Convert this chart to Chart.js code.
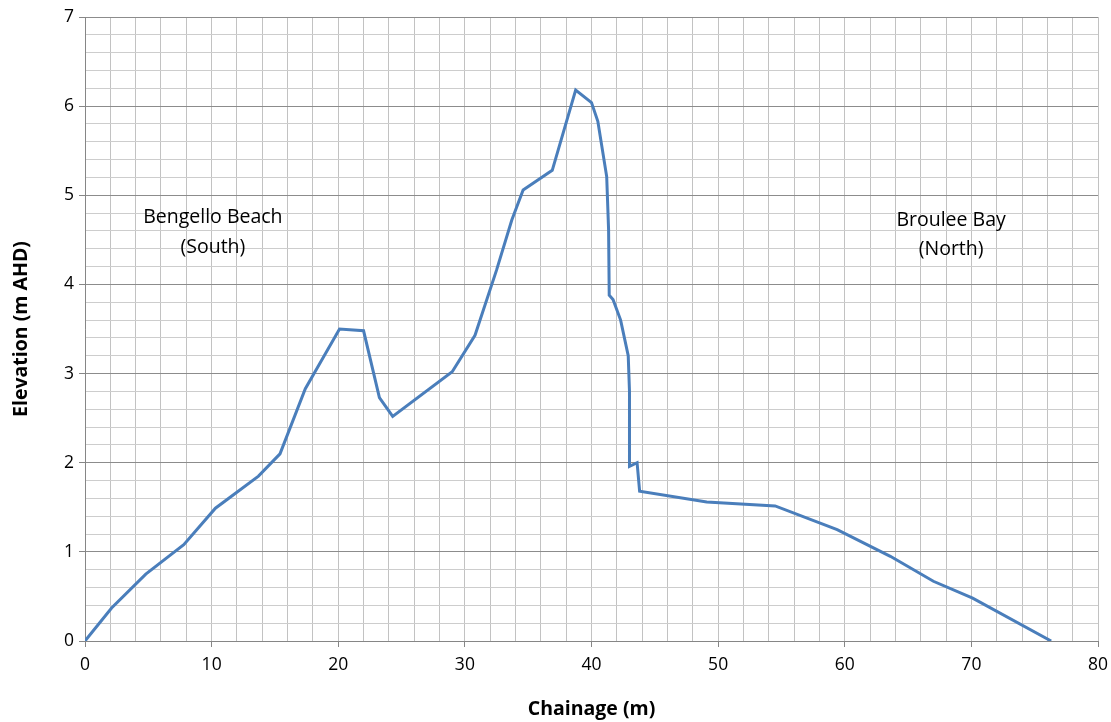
<!DOCTYPE html>
<html>
<head>
<meta charset="utf-8">
<script src="https://cdn.jsdelivr.net/npm/chart.js@4"></script>
<style>
  html, body { margin: 0; padding: 0; background: #fff; }
  #wrap { width: 1111px; height: 722px; }
</style>
</head>
<body>
<div id="wrap"><canvas id="profile"></canvas></div>
<script>
// beach profile
const chainage = [0, 2.1, 4.8, 7.8, 10.3, 13.7, 15.4, 17.4, 20.1, 22.0, 23.25, 24.3,
  29.0, 30.8, 32.5, 33.7, 34.6, 36.9, 38.75, 40.0, 40.5, 41.2, 41.35, 41.4,
  41.7, 42.3, 42.9, 43.0, 43.0, 43.6, 43.8, 49.1, 54.5, 59.4, 63.6, 67.0, 70.1, 76.3];
const elevation = [0, 0.37, 0.75, 1.08, 1.49, 1.85, 2.10, 2.83, 3.50, 3.48, 2.73, 2.52,
  3.02, 3.43, 4.16, 4.72, 5.06, 5.28, 6.18, 6.04, 5.83, 5.21, 4.61, 3.88,
  3.83, 3.60, 3.20, 2.80, 1.96, 2.00, 1.68, 1.56, 1.515, 1.25, 0.95, 0.67, 0.48, 0];

const labels = [
  { text: ["Bengello Beach", "(South)"], x: 10.1, y: [4.75, 4.41] },
  { text: ["Broulee Bay", "(North)"], x: 68.4, y: [4.72, 4.39] },
];

const FONT = "'Open Sans', 'Noto Sans', sans-serif";

function isWhole(v) {
  return Math.abs(v - Math.round(v)) < 1e-6;
}
function isTen(v) {
  return isWhole(v) && Math.round(v) % 10 === 0;
}

const textPlugin = {
  id: "sideLabels",
  afterDatasetsDraw(chart) {
    const ctx = chart.ctx;
    const xs = chart.scales.x, ys = chart.scales.y;
    ctx.save();
    ctx.fillStyle = "#000";
    ctx.font = "19.5px " + FONT;
    ctx.textAlign = "center";
    ctx.textBaseline = "middle";
    labels.forEach((l) => {
      l.text.forEach((t, i) => {
        ctx.fillText(t, xs.getPixelForValue(l.x), ys.getPixelForValue(l.y[i]));
      });
    });
    ctx.restore();
  },
};

new Chart(document.getElementById("profile"), {
  type: "line",
  data: {
    datasets: [
      {
        data: chainage.map((c, i) => ({ x: c, y: elevation[i] })),
        borderColor: "#4a7ebb",
        borderWidth: 3,
        pointRadius: 0,
        tension: 0,
        fill: false,
      },
    ],
  },
  options: {
    responsive: true,
    maintainAspectRatio: false,
    animation: false,
    layout: { padding: { top: 17, right: 13, left: 0, bottom: 0 } },
    plugins: { legend: { display: false }, tooltip: { enabled: false } },
    scales: {
      x: {
        type: "linear",
        min: 0,
        max: 80,
        afterFit: (s) => {
          s.height = 81;
          s.paddingLeft = 0;
          s.paddingRight = 0;
        },
        ticks: {
          stepSize: 2,
          autoSkip: false,
          maxRotation: 0,
          padding: 8,
          color: "#000",
          font: { family: FONT, size: 17.5 },
          callback: (v) => (isTen(v) ? String(Math.round(v)) : ""),
        },
        grid: {
          color: "#c2c2c2",
          tickLength: 6,
          tickColor: (ctx) => (ctx.tick && isTen(ctx.tick.value) ? "#868686" : "rgba(0,0,0,0)"),
        },
        border: { color: "#868686" },
        title: {
          display: true,
          text: "Chainage (m)",
          color: "#000",
          font: { family: FONT, size: 19.5, weight: "bold" },
          padding: { top: 0, bottom: 1 },
        },
      },
      y: {
        min: 0,
        max: 7,
        afterFit: (s) => {
          s.width = 85;
          s.paddingTop = 0;
          s.paddingBottom = 0;
        },
        ticks: {
          stepSize: 0.2,
          autoSkip: false,
          padding: 5,
          color: "#000",
          font: { family: FONT, size: 17.5 },
          callback: (v) => (isWhole(v) ? String(Math.round(v)) : ""),
        },
        grid: {
          color: (ctx) => (ctx.tick && isWhole(ctx.tick.value) ? "#8c8c8c" : "#cdcdcd"),
          tickLength: 6,
          tickColor: (ctx) => (ctx.tick && isWhole(ctx.tick.value) ? "#868686" : "rgba(0,0,0,0)"),
        },
        border: { color: "#868686" },
        title: {
          display: true,
          text: "Elevation (m AHD)",
          color: "#000",
          font: { family: FONT, size: 19.5, weight: "bold" },
          padding: { top: 10, bottom: 0 },
        },
      },
    },
  },
  plugins: [textPlugin],
});
</script>
</body>
</html>
